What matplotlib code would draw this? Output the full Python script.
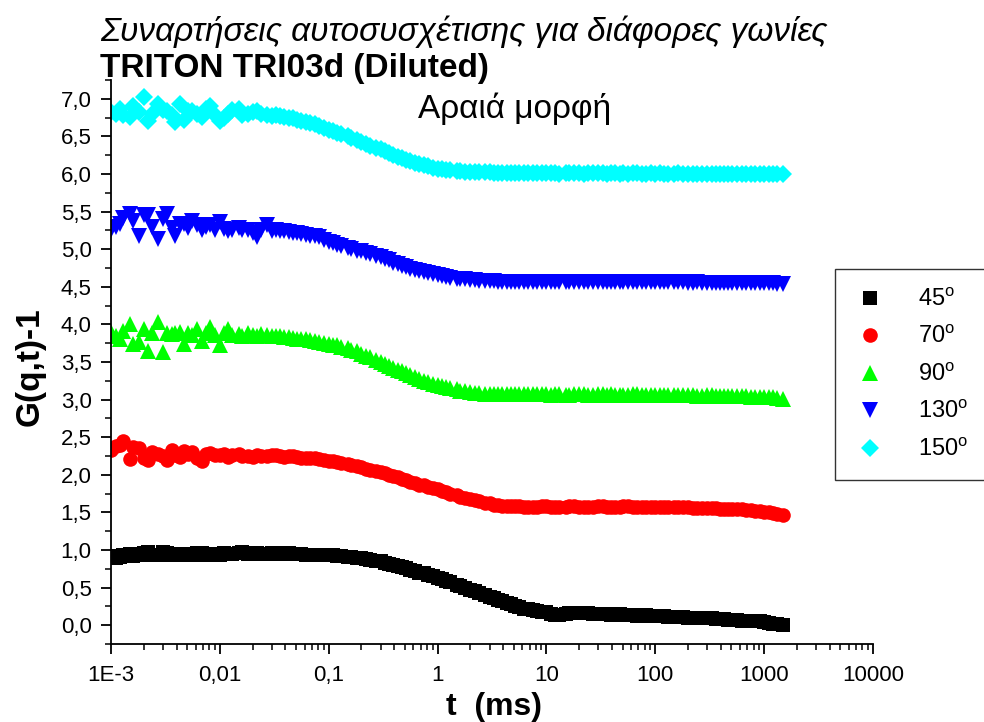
import matplotlib
matplotlib.use('Agg')
import matplotlib.pyplot as plt
from matplotlib.ticker import FixedLocator, FuncFormatter, LogLocator, NullFormatter

plt.rcParams['font.family'] = ['Liberation Sans', 'DejaVu Sans']
plt.rcParams['mathtext.fontset'] = 'custom'
plt.rcParams['mathtext.rm'] = 'Liberation Sans'

# correlation times (ms), quasi-logarithmic correlator channels
t_ms = [0.001, 0.0011, 0.0012, 0.0013, 0.0015, 0.0016, 0.0018, 0.002, 0.0022, 0.0024, 0.0027, 0.003,
        0.0033, 0.0036, 0.0039, 0.0043, 0.0047, 0.0051, 0.0056, 0.0062, 0.0068, 0.0075, 0.0082, 0.0091,
        0.01, 0.011, 0.012, 0.013, 0.015, 0.016, 0.018, 0.02, 0.022, 0.024, 0.027, 0.03,
        0.033, 0.036, 0.039, 0.043, 0.047, 0.051, 0.056, 0.062, 0.068, 0.075, 0.082, 0.091,
        0.1, 0.11, 0.12, 0.13, 0.15, 0.16, 0.18, 0.2, 0.22, 0.24, 0.27, 0.3,
        0.33, 0.36, 0.39, 0.43, 0.47, 0.51, 0.56, 0.62, 0.68, 0.75, 0.82, 0.91,
        1, 1.1, 1.2, 1.3, 1.5, 1.6, 1.8, 2, 2.2, 2.4, 2.7, 3,
        3.3, 3.6, 3.9, 4.3, 4.7, 5.1, 5.6, 6.2, 6.8, 7.5, 8.2, 9.1,
        10, 11, 12, 13, 15, 16, 18, 20, 22, 24, 27, 30,
        33, 36, 39, 43, 47, 51, 56, 62, 68, 75, 82, 91,
        100, 110, 120, 130, 150, 160, 180, 200, 220, 240, 270, 300,
        330, 360, 390, 430, 470, 510, 560, 620, 680, 750, 820, 910,
        1000, 1100, 1200, 1300, 1500]

# G(q,t)-1 for each scattering angle (curves shifted vertically in the original)
g_45 = [0.92, 0.90, 0.91, 0.94, 0.95, 0.92, 0.93, 0.96, 0.97, 0.93, 0.94, 0.97,
        0.96, 0.94, 0.93, 0.95, 0.95, 0.93, 0.94, 0.96, 0.96, 0.94, 0.95, 0.95,
        0.94, 0.96, 0.95, 0.95, 0.96, 0.97, 0.95, 0.96, 0.96, 0.95, 0.95, 0.96,
        0.96, 0.95, 0.96, 0.96, 0.95, 0.95, 0.95, 0.94, 0.94, 0.94, 0.94, 0.93,
        0.93, 0.93, 0.92, 0.92, 0.91, 0.91, 0.90, 0.89, 0.88, 0.87, 0.86, 0.85,
        0.83, 0.82, 0.80, 0.79, 0.77, 0.76, 0.74, 0.72, 0.70, 0.69, 0.67, 0.65,
        0.63, 0.61, 0.59, 0.57, 0.54, 0.52, 0.49, 0.47, 0.45, 0.43, 0.40, 0.38,
        0.36, 0.34, 0.32, 0.30, 0.28, 0.26, 0.24, 0.22, 0.21, 0.20, 0.19, 0.18,
        0.17, 0.15, 0.14, 0.14, 0.15, 0.16, 0.16, 0.16, 0.16, 0.16, 0.15, 0.15,
        0.15, 0.15, 0.14, 0.15, 0.15, 0.14, 0.14, 0.13, 0.12, 0.13, 0.13, 0.12,
        0.12, 0.12, 0.12, 0.11, 0.11, 0.11, 0.11, 0.10, 0.10, 0.10, 0.10, 0.09,
        0.09, 0.08, 0.08, 0.08, 0.07, 0.07, 0.07, 0.06, 0.06, 0.06, 0.05, 0.05,
        0.04, 0.03, 0.02, 0.01, 0.00]
g_70 = [2.33, 2.38, 2.40, 2.45, 2.21, 2.37, 2.36, 2.22, 2.20, 2.30, 2.28, 2.25,
        2.20, 2.33, 2.26, 2.24, 2.31, 2.27, 2.30, 2.23, 2.19, 2.28, 2.29, 2.26,
        2.26, 2.28, 2.24, 2.26, 2.27, 2.25, 2.25, 2.24, 2.26, 2.25, 2.25, 2.26,
        2.26, 2.25, 2.24, 2.25, 2.25, 2.24, 2.23, 2.23, 2.22, 2.22, 2.21, 2.20,
        2.19, 2.18, 2.17, 2.16, 2.15, 2.13, 2.12, 2.10, 2.08, 2.07, 2.05, 2.04,
        2.02, 2.00, 1.98, 1.97, 1.95, 1.93, 1.91, 1.89, 1.87, 1.86, 1.84, 1.83,
        1.81, 1.79, 1.77, 1.75, 1.73, 1.71, 1.69, 1.68, 1.66, 1.65, 1.63, 1.62,
        1.60, 1.60, 1.59, 1.59, 1.58, 1.58, 1.58, 1.57, 1.57, 1.57, 1.57, 1.58,
        1.58, 1.57, 1.57, 1.57, 1.57, 1.58, 1.58, 1.57, 1.57, 1.57, 1.57, 1.58,
        1.58, 1.57, 1.57, 1.57, 1.57, 1.58, 1.58, 1.57, 1.57, 1.57, 1.57, 1.57,
        1.57, 1.57, 1.57, 1.57, 1.57, 1.57, 1.57, 1.57, 1.56, 1.56, 1.56, 1.56,
        1.56, 1.56, 1.55, 1.55, 1.55, 1.55, 1.54, 1.54, 1.53, 1.53, 1.52, 1.52,
        1.51, 1.50, 1.49, 1.48, 1.47]
g_90 = [3.90, 3.84, 3.80, 3.91, 4.00, 3.74, 3.77, 3.94, 3.65, 3.88, 4.03, 3.63,
        3.89, 3.87, 3.88, 3.90, 3.74, 3.89, 3.86, 3.94, 3.78, 3.88, 3.96, 3.86,
        3.72, 3.88, 3.94, 3.86, 3.87, 3.85, 3.88, 3.86, 3.85, 3.87, 3.86, 3.85,
        3.84, 3.84, 3.83, 3.83, 3.82, 3.81, 3.80, 3.80, 3.79, 3.78, 3.77, 3.75,
        3.74, 3.73, 3.72, 3.70, 3.68, 3.66, 3.64, 3.61, 3.58, 3.56, 3.53, 3.50,
        3.47, 3.45, 3.42, 3.40, 3.38, 3.35, 3.33, 3.30, 3.27, 3.25, 3.23, 3.21,
        3.20, 3.18, 3.17, 3.15, 3.14, 3.12, 3.11, 3.10, 3.09, 3.09, 3.08, 3.08,
        3.07, 3.07, 3.07, 3.07, 3.07, 3.07, 3.07, 3.07, 3.07, 3.07, 3.07, 3.07,
        3.07, 3.06, 3.07, 3.07, 3.06, 3.06, 3.07, 3.07, 3.07, 3.06, 3.06, 3.07,
        3.07, 3.06, 3.07, 3.06, 3.06, 3.06, 3.06, 3.07, 3.07, 3.06, 3.06, 3.06,
        3.06, 3.06, 3.06, 3.06, 3.06, 3.06, 3.06, 3.06, 3.06, 3.05, 3.05, 3.06,
        3.06, 3.05, 3.05, 3.05, 3.05, 3.05, 3.05, 3.05, 3.05, 3.04, 3.04, 3.04,
        3.04, 3.04, 3.03, 3.02, 3.01]
g_130 = [5.25, 5.30, 5.34, 5.42, 5.47, 5.38, 5.18, 5.45, 5.45, 5.30, 5.14, 5.40,
         5.47, 5.28, 5.18, 5.34, 5.34, 5.28, 5.38, 5.32, 5.25, 5.29, 5.32, 5.26,
         5.36, 5.27, 5.24, 5.26, 5.28, 5.25, 5.25, 5.22, 5.16, 5.25, 5.32, 5.24,
         5.25, 5.24, 5.24, 5.23, 5.22, 5.21, 5.20, 5.19, 5.18, 5.17, 5.16, 5.12,
         5.09, 5.08, 5.06, 5.04, 5.02, 5.00, 4.98, 4.97, 4.95, 4.93, 4.91, 4.89,
         4.87, 4.85, 4.82, 4.80, 4.78, 4.76, 4.74, 4.73, 4.71, 4.70, 4.68, 4.67,
         4.66, 4.64, 4.63, 4.62, 4.61, 4.60, 4.60, 4.59, 4.59, 4.58, 4.58, 4.58,
         4.58, 4.57, 4.57, 4.57, 4.57, 4.57, 4.57, 4.57, 4.57, 4.57, 4.57, 4.57,
         4.57, 4.57, 4.57, 4.56, 4.56, 4.57, 4.57, 4.56, 4.56, 4.56, 4.56, 4.56,
         4.57, 4.56, 4.56, 4.56, 4.56, 4.56, 4.56, 4.56, 4.56, 4.56, 4.56, 4.56,
         4.56, 4.56, 4.56, 4.56, 4.56, 4.56, 4.56, 4.55, 4.55, 4.56, 4.55, 4.55,
         4.55, 4.55, 4.55, 4.55, 4.55, 4.55, 4.55, 4.55, 4.55, 4.55, 4.55, 4.55,
         4.55, 4.55, 4.55, 4.54, 4.54]
g_150 = [6.82, 6.80, 6.87, 6.78, 6.76, 6.91, 6.83, 7.02, 6.71, 6.80, 6.93, 6.85,
         6.84, 6.78, 6.69, 6.93, 6.72, 6.84, 6.84, 6.80, 6.76, 6.87, 6.91, 6.78,
         6.71, 6.74, 6.80, 6.85, 6.87, 6.78, 6.80, 6.82, 6.84, 6.80, 6.79, 6.77,
         6.78, 6.77, 6.76, 6.75, 6.74, 6.72, 6.70, 6.69, 6.68, 6.66, 6.64, 6.61,
         6.58, 6.57, 6.55, 6.53, 6.50, 6.48, 6.45, 6.42, 6.40, 6.37, 6.35, 6.33,
         6.30, 6.28, 6.25, 6.23, 6.21, 6.19, 6.17, 6.15, 6.13, 6.12, 6.10, 6.08,
         6.07, 6.06, 6.05, 6.05, 6.04, 6.04, 6.03, 6.03, 6.02, 6.02, 6.02, 6.02,
         6.01, 6.01, 6.01, 6.01, 6.01, 6.01, 6.01, 6.01, 6.01, 6.01, 6.01, 6.01,
         6.01, 6.01, 6.01, 6.00, 6.01, 6.01, 6.01, 6.01, 6.00, 6.01, 6.01, 6.01,
         6.01, 6.00, 6.01, 6.01, 6.00, 6.01, 6.00, 6.01, 6.01, 6.00, 6.00, 6.01,
         6.00, 6.01, 6.00, 6.00, 6.00, 6.01, 6.00, 6.00, 6.00, 6.00, 6.00, 6.00,
         6.00, 6.00, 6.00, 6.00, 6.00, 6.00, 6.00, 6.00, 6.00, 6.00, 6.00, 6.00,
         6.00, 6.00, 6.00, 6.00, 6.00]

series = [g_45, g_70, g_90, g_130, g_150]
angle_labels = ['45', '70', '90', '130', '150']
colors = ['#000000', '#ff0000', '#00ff00', '#0000ff', '#00ffff']
markers = ['s', 'o', '^', 'v', 'D']
sizes = [10, 10.5, 12, 12, 9]

x_ticks = [0.001, 0.01, 0.1, 1, 10, 100, 1000, 10000]
x_tick_labels = ['1E-3', '0,01', '0,1', '1', '10', '100', '1000', '10000']

fig = plt.figure(figsize=(9.84, 7.22), dpi=100)
ax = fig.add_axes([111 / 984, 1 - 644 / 722, (873 - 111) / 984, (644 - 80) / 722])

for g, lab, c, m, s in zip(series, angle_labels, colors, markers, sizes):
    ax.plot(t_ms, g, linestyle='none', marker=m, markersize=s, color=c,
            markeredgewidth=0, label=lab + r'$^{\mathrm{o}}$')

ax.set_xscale('log')
ax.set_xlim(0.001, 10000)
ax.set_ylim(-0.25, 7.25)

ax.spines['top'].set_visible(False)
ax.spines['right'].set_visible(False)
for sp in ['left', 'bottom']:
    ax.spines[sp].set_linewidth(1.3)

ax.set_xticks(x_ticks)
ax.set_xticklabels(x_tick_labels)
ax.xaxis.set_minor_locator(LogLocator(base=10, subs=range(2, 10), numticks=20))
ax.xaxis.set_minor_formatter(NullFormatter())

ax.yaxis.set_major_locator(FixedLocator([i * 0.5 for i in range(15)]))
ax.yaxis.set_minor_locator(FixedLocator([0.25 + i * 0.5 for i in range(-1, 15)]))
ax.yaxis.set_major_formatter(FuncFormatter(lambda v, p: f'{v:.1f}'.replace('.', ',')))

ax.tick_params(which='major', direction='out', length=7, width=1.3, labelsize=16)
ax.tick_params(which='minor', direction='out', length=4, width=1.1)
ax.tick_params(axis='y', which='major', pad=7)
ax.tick_params(axis='x', which='major', pad=8)

fig.text(100 / 984, 1 - 41 / 722, 'Συναρτήσεις αυτοσυσχέτισης για διάφορες γωνίες',
         fontsize=24, style='italic', ha='left', va='baseline')
fig.text(100 / 984, 1 - 77 / 722, 'TRITON TRI03d (Diluted)',
         fontsize=24, fontweight='bold', ha='left', va='baseline')
fig.text(418 / 984, 1 - 118 / 722, 'Αραιά μορφή', fontsize=24, ha='left', va='baseline')

fig.text(30 / 984, 1 - 367 / 722, 'G(q,t)-1', fontsize=24, fontweight='bold',
         rotation=90, ha='center', va='center')
fig.text(494 / 984, 1 - 707 / 722, 't  (ms)', fontsize=23, fontweight='bold',
         ha='center', va='center')

leg = fig.legend(loc='upper left', bbox_to_anchor=(835 / 984, 1 - 269 / 722),
                 frameon=True, fancybox=False, fontsize=17, labelspacing=0.62,
                 handletextpad=1.3, borderpad=0.8, handlelength=1.4,
                 borderaxespad=0, markerscale=1.0)
leg.get_frame().set_edgecolor('black')
leg.get_frame().set_linewidth(1.0)

fig.savefig('out.png', dpi=100)
